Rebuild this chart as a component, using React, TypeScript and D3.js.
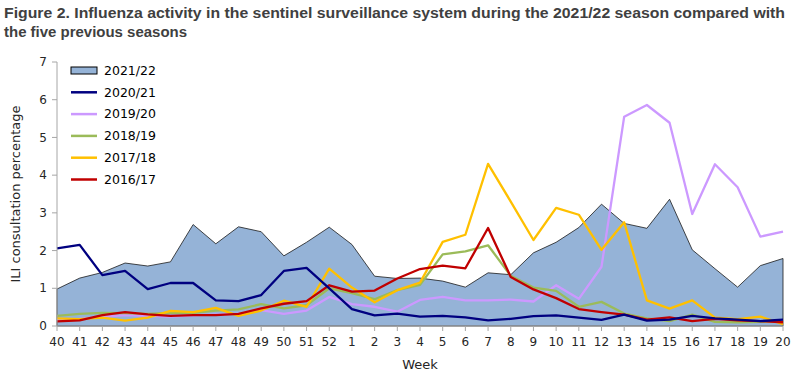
import React from "react";
import * as d3 from "d3";

const weeks: string[] = ["40","41","42","43","44","45","46","47","48","49","50","51","52","1","2","3","4","5","6","7","8","9","10","11","12","13","14","15","16","17","18","19","20"];

const s2122: number[] = [0.98,1.27,1.42,1.67,1.59,1.7,2.69,2.18,2.63,2.5,1.86,2.22,2.62,2.16,1.32,1.26,1.27,1.19,1.03,1.41,1.36,1.94,2.22,2.61,3.23,2.72,2.59,3.36,2.02,1.52,1.03,1.6,1.79];
const s2021: number[] = [2.06,2.15,1.35,1.46,0.98,1.14,1.14,0.68,0.66,0.82,1.46,1.54,1.0,0.45,0.28,0.33,0.25,0.27,0.23,0.15,0.19,0.26,0.28,0.22,0.16,0.3,0.14,0.17,0.27,0.2,0.17,0.13,0.17];
const s1920: number[] = [0.16,0.19,0.24,0.29,0.27,0.25,0.28,0.3,0.33,0.42,0.32,0.41,0.77,0.58,0.51,0.38,0.69,0.77,0.68,0.68,0.7,0.65,1.08,0.72,1.57,5.55,5.86,5.39,2.97,4.29,3.68,2.37,2.5];
const s1819: number[] = [0.27,0.32,0.35,0.34,0.32,0.35,0.35,0.41,0.44,0.58,0.47,0.55,1.0,0.87,0.71,0.95,1.09,1.9,1.98,2.14,1.33,1.02,0.93,0.51,0.64,0.33,0.2,0.13,0.3,0.11,0.1,0.11,0.12];
const s1718: number[] = [0.2,0.18,0.22,0.14,0.22,0.4,0.37,0.48,0.27,0.41,0.67,0.51,1.52,1.02,0.63,0.95,1.15,2.23,2.42,4.3,3.3,2.28,3.13,2.95,2.02,2.75,0.68,0.46,0.68,0.22,0.18,0.25,0.05];
const s1617: number[] = [0.12,0.15,0.29,0.37,0.31,0.27,0.29,0.29,0.32,0.47,0.59,0.66,1.08,0.91,0.94,1.26,1.51,1.6,1.53,2.6,1.3,0.97,0.74,0.45,0.37,0.3,0.17,0.23,0.13,0.19,0.15,0.13,0.1];

const yTicks: number[] = [0,1,2,3,4,5,6,7];

const lineSeries = [
  { name: "2020/21", values: s2021, color: "#000080" },
  { name: "2019/20", values: s1920, color: "#CC99FF" },
  { name: "2018/19", values: s1819, color: "#9BBB59" },
  { name: "2017/18", values: s1718, color: "#FFC000" },
  { name: "2016/17", values: s1617, color: "#C00000" },
];

const drawOrder = ["2019/20", "2018/19", "2017/18", "2016/17", "2020/21"];

export default function App() {
  const W = 800, H = 376;
  const left = 57, right = 783, top = 62, bottom = 326;
  const x = d3.scalePoint<string>().domain(weeks.map((w, i) => i + "")).range([left, right]);
  const y = d3.scaleLinear().domain([0, 7]).range([bottom, top]);
  const xi = (i: number) => x(i + "") as number;

  const area = d3.area<number>().x((_, i) => xi(i)).y0(y(0)).y1(d => y(d));
  const line = d3.line<number>().x((_, i) => xi(i)).y(d => y(d));

  const font = "'DejaVu Sans', sans-serif";
  const titleFont = "'Liberation Sans', Arial, sans-serif";
  const axisColor = "#a6a6a6";

  const legendItems = [{ name: "2021/22", color: "#95B3D7", area: true }, ...lineSeries.map(s => ({ name: s.name, color: s.color, area: false }))];

  return (
    <svg width={W} height={H} style={{ position: "absolute", left: 0, top: 0, background: "#fff" }} fontFamily={font}>
      <text x={4} y={18} fontFamily={titleFont} fontSize={14.5} fontWeight="bold" fill="#404040" textLength={781} lengthAdjust="spacingAndGlyphs">Figure 2. Influenza activity in the sentinel surveillance system  during the 2021/22 season compared with</text>
      <text x={4} y={37} fontFamily={titleFont} fontSize={14.5} fontWeight="bold" fill="#404040" textLength={183} lengthAdjust="spacingAndGlyphs">the five previous seasons</text>

      <path d={area(s2122) || ""} fill="#95B3D7" stroke="#1a1a1a" strokeWidth={0.8} />

      {drawOrder.map(n => {
        const s = lineSeries.find(l => l.name === n)!;
        return <path key={n} d={line(s.values) || ""} fill="none" stroke={s.color} strokeWidth={2.3} strokeLinejoin="round" />;
      })}

      <line x1={left} x2={left} y1={top} y2={bottom} stroke={axisColor} strokeWidth={1} />
      <line x1={left} x2={right} y1={bottom} y2={bottom} stroke={axisColor} strokeWidth={1.2} />
      {yTicks.map(t => (
        <g key={t}>
          <line x1={left - 5} x2={left} y1={y(t)} y2={y(t)} stroke={axisColor} />
          <text x={left - 10} y={y(t)} dy="0.35em" textAnchor="end" fontSize={12} fill="#262626">{t}</text>
        </g>
      ))}
      {weeks.map((w, i) => (
        <g key={i}>
          <line x1={xi(i)} x2={xi(i)} y1={bottom} y2={bottom + 5} stroke={axisColor} />
          <text x={xi(i)} y={bottom + 20} textAnchor="middle" fontSize={12} fill="#262626">{w}</text>
        </g>
      ))}
      <text x={(left + right) / 2} y={369} textAnchor="middle" fontSize={13} fill="#262626">Week</text>
      <text transform={`translate(20, ${(top + bottom) / 2}) rotate(-90)`} textAnchor="middle" fontSize={13} fill="#262626">ILI consultation percentage</text>

      {legendItems.map((it, i) => {
        const cy = 70.5 + i * 21.8;
        return (
          <g key={it.name}>
            {it.area
              ? <rect x={71} y={cy - 3.5} width={26} height={7} fill={it.color} stroke="#000" strokeWidth={1} />
              : <line x1={71} x2={97} y1={cy} y2={cy} stroke={it.color} strokeWidth={2.5} />}
            <text x={104} y={cy} dy="0.35em" fontSize={12.5} fill="#000">{it.name}</text>
          </g>
        );
      })}
    </svg>
  );
}
